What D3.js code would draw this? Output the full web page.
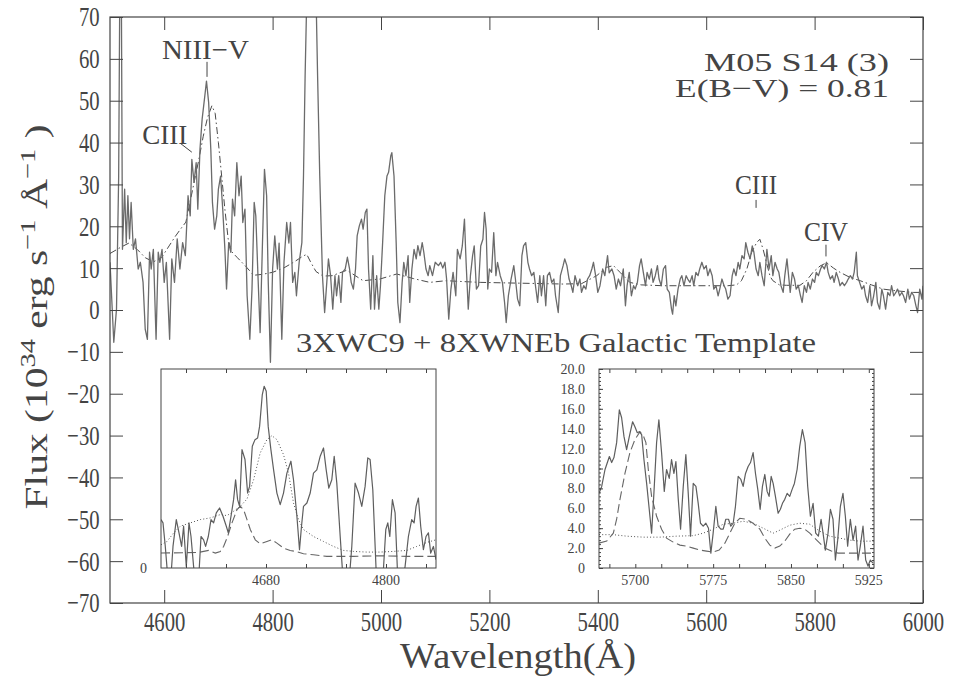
<!DOCTYPE html>
<html>
<head>
<meta charset="utf-8">
<script src="https://cdn.jsdelivr.net/npm/d3@7"></script>
<style>
body { margin: 0; background: #fff; }
svg { font-family: "Liberation Serif", serif; }
</style>
</head>
<body>
<script>

// observed spectrum (wavelength in A, flux in 1e34 erg/s/A)
var wave = [4500,4507,4512,4516,4518,4521,4523,4527,4530,4533,4536,4539,4543,4547,4552,4556,4561,4565,4569,4573,
    4576,4580,4585,4589,4592,4596,4600,4604,4610,4614,4619,4624,4629,4634,4639,4644,4648,4651,4655,4659,
    4662,4666,4670,4675,4678,4682,4686,4689,4693,4697,4700,4704,4708,4712,4715,4719,4723,4726,4730,4734,
    4738,4742,4745,4749,4753,4758,4762,4766,4769,4773,4777,4781,4785,4789,4792,4796,4800,4804,4809,4812,
    4817,4821,4826,4830,4833,4837,4841,4844,4849,4854,4857,4860,4872,4883,4887,4892,4896,4900,4903,4907,
    4911,4915,4918,4922,4926,4929,4934,4938,4942,4945,4949,4953,4956,4960,4964,4967,4971,4974,4977,4981,
    4985,4988,4992,4996,4999,5003,5007,5011,5014,5018,5020,5024,5028,5031,5035,5039,5042,5046,5050,5053,
    5057,5061,5065,5068,5072,5076,5079,5083,5087,5090,5095,5100,5106,5110,5114,5118,5121,5125,5129,5133,
    5138,5141,5146,5150,5154,5157,5161,5165,5169,5172,5176,5180,5184,5188,5191,5194,5197,5200,5204,5208,
    5212,5215,5220,5224,5228,5231,5235,5240,5245,5248,5252,5256,5260,5263,5267,5271,5274,5278,5282,5285,
    5289,5293,5296,5300,5304,5307,5311,5315,5319,5322,5327,5331,5336,5339,5343,5347,5351,5354,5358,5363,
    5367,5370,5374,5378,5381,5385,5389,5392,5396,5400,5404,5409,5413,5418,5421,5426,5430,5434,5438,5442,
    5447,5451,5454,5458,5462,5466,5469,5473,5477,5480,5484,5488,5491,5495,5499,5502,5506,5510,5513,5517,
    5521,5525,5528,5532,5536,5538,5541,5544,5548,5552,5555,5559,5563,5566,5570,5574,5577,5581,5585,5588,
    5592,5596,5600,5603,5607,5611,5614,5618,5622,5625,5629,5633,5636,5640,5644,5648,5651,5655,5659,5662,
    5666,5670,5673,5677,5681,5685,5688,5692,5696,5699,5703,5707,5712,5716,5720,5723,5727,5731,5734,5738,
    5742,5745,5749,5752,5755,5759,5763,5766,5770,5774,5777,5781,5785,5788,5792,5796,5800,5803,5807,5811,
    5814,5818,5822,5825,5829,5833,5836,5840,5844,5847,5851,5855,5859,5862,5866,5870,5873,5877,5879,5883,
    5887,5891,5894,5898,5902,5905,5909,5913,5916,5920,5924,5927,5931,5935,5939,5942,5946,5950,5953,5957,
    5961,5964,5968,5972,5975,5979,5983,5987,5990,5994,5998,6000];
var flux = [11.4,-7.7,0.2,32,75,75,14.5,28.9,16.1,27.3,17,25.7,14.5,17,9.8,11.4,6.6,-4.6,-7,13.8,
    9.8,14.5,-7,13.8,11.4,14.5,6.6,11.4,-7,12.2,6.6,17,9.8,16.1,13,27.3,22.5,36,30.5,35.2,
    24.1,38.4,45.6,51.2,54.7,49.6,38.4,25.7,19.3,22.5,28.9,32,24.1,14.5,5,16.1,13.8,26.5,22.5,35.2,
    27.3,32,20.9,24.1,3.4,-7,5,25.7,22.5,8.2,-5.4,14.5,33.6,27.3,6.6,-12.5,9.8,17.7,9.8,16,
    -7,11.4,20.9,16,20.9,6.6,9,3.4,11.4,16.1,32,56,130,56,32,8.2,-0.6,6.6,12.2,8.2,
    0.2,8.2,3.4,8.2,1.8,9,9.8,12.6,9.8,6.6,5,9.8,17.7,20.1,21.7,19.3,23.3,24.1,9.8,0.2,
    13,0.2,8.2,0.2,5.8,16.1,27.3,32,32.9,36.8,37.6,32,16.1,1.8,-3,6.6,11.4,8.2,13,1.8,
    9.8,14.5,12.2,15.4,13,16.1,13.8,9.8,8.2,10.6,8.2,11.4,10.6,11.4,10,11.4,7.4,-2.2,5,9,
    3.4,14.5,12.2,15.3,21.7,11.4,0.2,8.2,13,15.3,5,5.8,15.3,16.9,23.3,19.3,5,9.8,9,18.5,
    8.2,11.4,8.2,6.6,1.8,-3,3.4,7.4,10.6,7.4,2.6,1,13,15.3,16.1,11.4,9.8,8.2,9,5.8,
    1.8,8.2,3.4,8.2,1,8.2,9,6.6,7.4,3.4,-0.6,8.2,10.6,12.2,10.6,7.4,5.8,4.2,8.2,5.8,
    7.4,4.2,5.8,5,7.4,8.2,9.8,11.4,8.2,4.2,5.8,9.8,8.2,13,8.9,9.8,8.2,5,7.4,5.8,
    9.8,1,5.8,9,3.4,5.8,5,6.6,10.6,12.2,9,5.8,9,7.4,9.8,6.6,8.2,10.6,7.4,5.8,
    9.8,10.6,5,4.2,0.2,-1,3.4,1,5,7.4,8.2,5.8,8.2,7.4,6.6,8.2,5.8,9,8.2,9.8,
    11.4,9.8,10.6,8.2,9.8,8.2,5,5.8,3.4,5,7.4,5.8,5,2.6,3.4,8.2,9.8,8.2,11.4,9.8,
    13,12.2,16.1,13.8,12.2,15.3,13.8,9.8,8.2,11.4,8.2,5.8,14.5,9.8,13,8.2,11.4,9.8,9,5.8,
    4.2,8.2,12.2,8.2,4.2,9,7.4,5,5.8,3.4,1.8,5.8,4.2,6.6,5,7.4,6.6,9,8.2,9.8,
    10.6,9.8,11.4,9,7.4,8.2,6.6,9,7.4,5.8,6.6,5.8,6.6,7.4,8.2,7.4,9,13.8,8.2,6.6,
    5,5.8,3.4,1.8,5.8,1,3.4,6.6,1.8,0.2,5,3.4,0.2,4.2,3.4,5.8,3.4,4.2,5,3.4,
    4.2,3.4,1.8,5,2.6,4.2,3.4,1,-0.6,5,2.6,5.8];

// 3xWC9 + 8xWNEb template
var tplWave = [4500,4520,4535,4550,4565,4580,4595,4610,4620,4630,4640,4648,4656,4664,4672,4680,4688,4694,4700,4706,
    4712,4718,4724,4735,4750,4765,4780,4800,4820,4840,4855,4863,4870,4880,4893,4910,4937,4967,4998,5029,
    5060,5090,5120,5150,5183,5220,5260,5300,5336,5370,5398,5416,5429,5441,5459,5480,5520,5560,5600,5640,
    5656,5665,5675,5684,5693,5699,5705,5711,5718,5723,5735,5748,5773,5785,5797,5810,5822,5835,5847,5865,
    5884,5905,5926,5950,5982,6000];
var tplFlux = [13.5,15,16,14.5,12.5,11.5,12.5,15.5,17.5,19.3,21,26,31,36,41.5,46,48.8,47,40,32,
    24,17,14,12.5,10.5,8.3,8.5,9,10,11.5,12.8,13.3,11.5,9.2,8.1,8.2,9.5,7,7.4,8.6,
    7.5,6.6,7,6.8,6.6,6.5,6.4,6.3,6.2,6.3,8.2,10.2,10.6,9,6.6,6,5.8,5.8,5.8,5.8,
    6,7,9.8,13.8,16.1,16.9,14.5,11.4,8,7,6,5.9,5.9,7,9,10.5,11.3,10,9,7.8,
    7,6,5,4.6,4.2,4.2];

// inset 1: NIII-V / CIII 4650 region
var in1Wave = [4575,4577,4579.3,4581.7,4584.3,4587,4590.3,4593,4595.6,4597.6,4600.3,4603,4605,4607.6,4610.3,4613,4615,4617.6,4619.6,4622.3,
    4625,4627.6,4630.3,4633.6,4637,4640.3,4642.3,4645,4647.6,4649.6,4651.6,4653.6,4656,4659,4661.6,4663.6,4666.3,4669,4671.6,4673.6,
    4676.3,4678.2,4680.2,4682.2,4684.9,4687.6,4690.9,4694.2,4697.5,4700.9,4704.9,4707.5,4710.9,4713.5,4715.5,4717.5,4720.9,4724.2,4727.5,4730.8,
    4734.2,4737.5,4740.2,4742.8,4745.8,4748.2,4750.8,4754.2,4757.5,4762.5,4765.8,4769.1,4772.5,4775.8,4779.1,4781.8,4784.1,4786.8,4790.1,4794.1,
    4797.4,4799.8,4801.8,4803.8,4806.4,4809.1,4811.4,4815.8,4819.1,4822.4,4825.7,4828.1,4830.1,4832.4,4834.7,4837.4,4840,4842.4,4844.7,4847.4,4850];
var in1Flux = [14.6,13.6,6.5,-2.5,-5.5,6.5,14.6,10.6,6.5,12.6,0.5,13.6,9.5,0.5,-6.5,-1.5,9.5,8.5,6.5,9.5,
    14.6,13.6,16.6,18.1,15.6,12.6,10.6,15.6,20.6,26.6,20.6,18.6,35.7,32.7,22.6,24.6,36.7,38.7,39.2,42.7,
    52.3,54.8,53.3,42.7,35.7,29.6,22.6,19.1,22.6,28.6,32.2,26.6,15.6,5.5,12.6,18.6,19.6,22.6,28.6,29.6,
    33.7,36.2,29.6,24.1,26.6,33.7,25.6,9.5,-5.5,-6.5,6.5,25.6,22.6,18.6,24.6,33.2,32.7,23.6,-0.5,-7.5,
    -0.5,11.6,13.6,9.5,20.6,16.6,-0.5,-5.5,0.5,9.5,14.6,13.6,18.6,21.1,12.6,5.5,9.5,10.6,4.5,6.5,2.5];
var in1WcWave = [4575,4612.6,4622.6,4629.3,4634.3,4637.6,4641.6,4646,4651,4654.3,4657.6,4661,4664.3,4669.3,4674.2,4680.9,4685.9,4690.9,4697.5,4704.2,
    4710.9,4717.5,4727.5,4740.8,4767.5,4794.1,4820.8,4850];
var in1WcFlux = [4.5,4.7,5.3,4.5,5,6.5,9.5,13.6,17.6,18.6,17.6,14.6,11.6,8.5,7.3,8,8.5,7.5,6,5.3,
    4.9,4.3,4,3.5,3.5,3.7,3.5,3.5];
var in1WnWave = [4575,4581,4587.7,4594.3,4604.3,4614.3,4624.3,4634.3,4641,4647.6,4654.3,4661,4667.6,4674.2,4680.9,4685.9,4690.9,4697.5,4702.5,4707.5,
    4712.5,4717.5,4727.5,4737.5,4747.5,4757.5,4767.5,4780.8,4794.1,4807.4,4820.8,4830.7,4840.7,4850];
var in1WnFlux = [7,8,10.6,12.6,13.6,14.6,15.1,16.1,15.8,17.1,18.6,20.8,26.6,34.7,38.7,39.9,38.7,34.2,28.6,19.6,
    14.6,11.6,9.5,8,6.5,5.3,5,4.8,4.8,5,5.3,6.5,7.7,8.5];

// inset 2: CIII 5696 / CIV 5808 region
var in2Wave = [5665,5667.6,5670.8,5675,5677.2,5679.4,5682,5684.6,5686.8,5689.1,5691.6,5694.2,5697.4,5699.6,5701.9,5703.8,5706.1,5708.3,5710.9,5713.4,
    5715.7,5717.9,5720.5,5722.7,5725.3,5727.9,5730.1,5732.7,5734.9,5737.2,5739.1,5741.4,5743.6,5746.2,5748.7,5751,5753.2,5755.8,5758.4,5760.6,
    5762.8,5765.4,5768,5770.5,5772.8,5775,5777.6,5779.8,5782.4,5784.7,5787.2,5789.8,5792,5794.3,5796.5,5799.1,5801.7,5803.9,5806.2,5808.7,
    5811,5813.5,5815.8,5818,5820.3,5822.5,5824.8,5827,5828.9,5830.9,5832.8,5835,5837.6,5839.8,5841.8,5844,5846.3,5848.8,5851.1,5853.3,
    5855.9,5858.4,5861,5863.6,5866.1,5868.7,5871.3,5873.8,5876.4,5879,5880.9,5883.1,5885.7,5888,5890.5,5892.8,5895,5897.6,5900.1,5902.4,
    5904.6,5907.2,5909.8,5912.3,5914.6,5916.8,5919.4,5922,5924.2,5926.5,5929];
var in2Flux = [7.5,8.2,9.9,11.2,10.6,11.1,12.6,15.9,15.1,13.2,11.9,13.2,14.7,14.2,13.6,13.7,13.4,10.9,8.5,5.9,
    3.5,7.5,12.6,14.9,11.6,7.7,9.9,9,10.9,9.5,10.7,6.9,3.9,8.2,11.4,7.5,3.2,8.5,8.2,6.5,
    4.5,4.2,4.5,4,1.5,3.5,6.2,4.2,3.9,3.9,4.9,4.9,4.2,4.5,6.2,9.2,8.9,8.2,9.5,10.2,
    10.6,11.6,9.5,7.9,5.9,8.2,9.4,7.7,7.2,9.2,8.5,7.2,5.5,5.9,6.5,6.9,7.5,7.2,7.9,8.5,
    9.9,12.2,13.9,12.6,8.2,5.2,6.5,3.5,3.2,4.9,3.5,1.8,3.5,5.9,4.9,0.8,2.8,6.2,7.5,5.2,
    2.2,4.9,2.8,4.2,0.8,2.2,4.2,0.8,0.2,0.8,0.5];
var in2WcWave = [5665,5672.4,5678.8,5682,5685.2,5690,5694.8,5699.6,5704.5,5707.7,5710.2,5712.5,5715.7,5720.5,5725.3,5730.1,5736.5,5743,5749.4,5755.8,
    5762.2,5768.6,5775,5780.8,5786.3,5791.1,5795.9,5800.7,5807.1,5813.5,5820,5824.8,5829.6,5834.4,5839.2,5844,5848.8,5853.6,5858.4,5863.3,
    5868.1,5872.9,5877.7,5882.5,5888.9,5895.3,5930];
var in2WcFlux = [2.5,2.7,3.5,4.9,6.9,9.5,11.6,12.9,13.7,13.3,12.6,9.9,7.2,5.2,3.9,3,2.6,2.3,2.2,2,
    1.8,1.7,1.6,1.8,2.5,3.5,4.5,5,4.9,4.5,3.9,3,2.3,2,2.2,2.7,3.4,3.9,4,3.9,
    3.5,3,2.5,2,1.7,1.5,1.5];
var in2WnWave = [5665,5678.8,5691.6,5707.7,5723.7,5739.7,5755.8,5765.4,5775,5784.7,5794.3,5804,5813.5,5823.2,5832.8,5839.2,5848.8,5858.4,5868.1,5877.7,
    5887.3,5897,5906.6,5916.2,5930];
var in2WnFlux = [3.35,3.35,3.2,3.1,3.1,3.2,3.25,3.5,3.9,4.4,4.5,4.7,4.5,4,3.5,3.8,4.3,4.5,4.4,3.7,
    3.2,3,2.8,2.7,2.7];

// tick values
var xTicks = [4600,4800,5000,5200,5400,5600,5800,6000];
var yTicks = [-70,-60,-50,-40,-30,-20,-10,0,10,20,30,40,50,60,70];
var in1Ticks = [4600,4640,4680,4720,4760,4800,4840];
var in1Labels = [4680,4800];
var in2Ticks = [5675,5700,5725,5750,5775,5800,5825,5850,5875,5900,5925];
var in2Labels = [5700,5775,5850,5925];
var in2YLabels = [0,2,4,6,8,10,12,14,16,18,20];

var margin = {top: 17, right: 30, bottom: 76, left: 110};
var width = 953 - margin.left - margin.right,
    height = 679 - margin.top - margin.bottom;

var ink = "#444";
var serif = "'Liberation Serif', serif";

var svg = d3.select("body").append("svg")
    .attr("width", 953)
    .attr("height", 679);

var g = svg.append("g")
    .attr("transform", "translate(" + margin.left + "," + margin.top + ")");

var x = d3.scaleLinear().domain([4500, 6000]).range([0, width]);
var y = d3.scaleLinear().domain([-70, 70]).range([height, 0]);

g.append("clipPath").attr("id", "clipMain")
    .append("rect").attr("width", width).attr("height", height);

var pairs = function (a, b) { return a.map(function (v, i) { return [v, b[i]]; }); };

var line = d3.line()
    .x(function (d) { return x(d[0]); })
    .y(function (d) { return y(d[1]); });

g.append("path")
    .attr("clip-path", "url(#clipMain)")
    .attr("d", line(pairs(tplWave, tplFlux)))
    .style("fill", "none")
    .style("stroke", "#4a4a4a")
    .style("stroke-width", 1)
    .style("stroke-dasharray", "7,3,1.5,3");

g.append("path")
    .attr("clip-path", "url(#clipMain)")
    .attr("d", line(pairs(wave, flux)))
    .style("fill", "none")
    .style("stroke", "#6b6b6b")
    .style("stroke-width", 1.3)
    .style("stroke-linejoin", "round");

// squeeze the axis digits like the plotting font
var squeeze = function (sel, size, sx) {
    sel.attr("font-family", serif);
    sel.selectAll("text")
        .style("font-family", serif)
        .style("font-size", size + "px")
        .style("fill", ink)
        .attr("transform", "scale(" + sx + ",1)");
};

var styleAxis = function (sel) {
    sel.select(".domain").remove();
    sel.selectAll("line").style("stroke", ink);
};

g.append("g")
    .attr("transform", "translate(0," + height + ")")
    .call(d3.axisBottom(x).tickValues(xTicks).tickSize(-13).tickPadding(8).tickFormat(d3.format("d")))
    .call(styleAxis)
    .call(squeeze, 28, 0.74);

g.append("g")
    .call(d3.axisTop(x).tickValues(xTicks).tickSize(-13).tickFormat(""))
    .call(styleAxis);

g.append("g")
    .call(d3.axisLeft(y).tickValues(yTicks).tickSize(-13).tickPadding(14).tickFormat(d3.format("d")))
    .call(styleAxis)
    .call(squeeze, 28, 0.74);

g.append("g")
    .attr("transform", "translate(" + width + ",0)")
    .call(d3.axisRight(y).tickValues(yTicks).tickSize(-13).tickFormat(""))
    .call(styleAxis);

g.append("rect")
    .attr("width", width).attr("height", height)
    .style("fill", "none").style("stroke", ink).style("stroke-width", 1.2);

// line identifications
var label = function (txt, px, py, len) {
    return g.append("text").attr("x", px).attr("y", py)
        .attr("text-anchor", "middle").style("font-size", "28px").style("fill", ink)
        .attr("textLength", len).attr("lengthAdjust", "spacingAndGlyphs")
        .text(txt);
};

label("NIII\u2212V", x(4678) - 1, y(60), 87);
g.append("line").attr("x1", x(4679)).attr("x2", x(4679))
    .attr("y1", y(60) + 3).attr("y2", y(60) + 18).style("stroke", ink);

label("CIII", x(4601), y(39.6), 45);
g.append("line").attr("x1", x(4630)).attr("y1", y(39.8))
    .attr("x2", x(4651)).attr("y2", y(37.7)).style("stroke", ink);

label("CIII", x(5692), y(27.8), 42);
g.append("line").attr("x1", x(5692)).attr("x2", x(5692))
    .attr("y1", y(26.3)).attr("y2", y(24.4)).style("stroke", ink);

label("CIV", x(5821), y(16.4), 44);
g.append("line").attr("x1", x(5821)).attr("x2", x(5821))
    .attr("y1", y(15.6)).attr("y2", y(12.8)).style("stroke", ink);

g.append("text").attr("x", 779).attr("y", y(57.1))
    .attr("text-anchor", "end").style("font-size", "26px").style("fill", ink)
    .attr("textLength", 185).attr("lengthAdjust", "spacingAndGlyphs")
    .text("M05 S14 (3)");
g.append("text").attr("x", 779).attr("y", y(50.8))
    .attr("text-anchor", "end").style("font-size", "26px").style("fill", ink)
    .attr("textLength", 214).attr("lengthAdjust", "spacingAndGlyphs")
    .text("E(B\u2212V) = 0.81");

svg.append("text").attr("x", 556).attr("y", 352)
    .attr("text-anchor", "middle").style("font-size", "28px").style("fill", ink)
    .attr("textLength", 520).attr("lengthAdjust", "spacingAndGlyphs")
    .text("3XWC9 + 8XWNEb Galactic Template");

// axis titles
svg.append("text")
    .attr("x", 518).attr("y", 668)
    .attr("text-anchor", "middle").style("font-size", "36px").style("fill", ink)
    .attr("textLength", 236).attr("lengthAdjust", "spacingAndGlyphs")
    .text("Wavelength(\u00c5)");

var ytitle = svg.append("text")
    .attr("transform", "translate(47,317) rotate(-90)")
    .attr("text-anchor", "middle").style("font-size", "32px").style("fill", ink)
    .attr("textLength", 385).attr("lengthAdjust", "spacingAndGlyphs");
ytitle.append("tspan").text("Flux (10");
ytitle.append("tspan").attr("dy", -12).style("font-size", "22px").text("34");
ytitle.append("tspan").attr("dy", 12).text(" erg s");
ytitle.append("tspan").attr("dy", -12).style("font-size", "22px").text("\u22121");
ytitle.append("tspan").attr("dy", 12).text(" \u00c5");
ytitle.append("tspan").attr("dy", -12).style("font-size", "22px").text("\u22121");
ytitle.append("tspan").attr("dy", 12).text(" )");

// insets
var drawInset = function (opt) {
    var ig = svg.append("g").attr("transform", "translate(" + opt.left + "," + opt.top + ")");
    var ix = d3.scaleLinear().domain(opt.xDomain).range([0, opt.w]);
    var iy = d3.scaleLinear().domain(opt.yDomain).range([opt.h, 0]);

    ig.append("rect").attr("width", opt.w).attr("height", opt.h).style("fill", "#fff");
    ig.append("clipPath").attr("id", opt.id)
        .append("rect").attr("width", opt.w).attr("height", opt.h);

    var il = d3.line()
        .x(function (d) { return ix(d[0]); })
        .y(function (d) { return iy(d[1]); });

    ig.append("path").attr("clip-path", "url(#" + opt.id + ")")
        .attr("d", il(opt.wn)).style("fill", "none").style("stroke", "#555")
        .style("stroke-width", 1).style("stroke-dasharray", "1,2.2");
    ig.append("path").attr("clip-path", "url(#" + opt.id + ")")
        .attr("d", il(opt.wc)).style("fill", "none").style("stroke", "#666")
        .style("stroke-width", 1.1).style("stroke-dasharray", "9,4");
    ig.append("path").attr("clip-path", "url(#" + opt.id + ")")
        .attr("d", il(opt.obs)).style("fill", "none").style("stroke", "#5e5e5e")
        .style("stroke-width", 1.2).style("stroke-linejoin", "round");

    ig.append("g").attr("transform", "translate(0," + opt.h + ")")
        .call(d3.axisBottom(ix).tickValues(opt.xTicks).tickSize(-4).tickFormat(""))
        .call(styleAxis);
    ig.append("g")
        .call(d3.axisTop(ix).tickValues(opt.xTicks).tickSize(-4).tickFormat(""))
        .call(styleAxis);

    ig.selectAll(".xl").data(opt.xLabels).enter().append("text")
        .attr("x", function (d) { return ix(d); })
        .attr("y", opt.h + 17)
        .attr("text-anchor", "middle").style("font-size", "14px").style("fill", ink)
        .text(function (d) { return d; });

    if (opt.yMinor) {
        ig.append("g").call(d3.axisLeft(iy).tickValues(opt.yMinor).tickSize(-2).tickFormat("")).call(styleAxis);
        ig.append("g").attr("transform", "translate(" + opt.w + ",0)")
            .call(d3.axisRight(iy).tickValues(opt.yMinor).tickSize(-2).tickFormat("")).call(styleAxis);
        ig.append("g").call(d3.axisLeft(iy).tickValues(opt.yLabels).tickSize(-4).tickFormat("")).call(styleAxis);
        ig.append("g").attr("transform", "translate(" + opt.w + ",0)")
            .call(d3.axisRight(iy).tickValues(opt.yLabels).tickSize(-4).tickFormat("")).call(styleAxis);
    }

    ig.selectAll(".yl").data(opt.yLabels).enter().append("text")
        .attr("x", -14)
        .attr("y", function (d) { return iy(d) + 5; })
        .attr("text-anchor", "end").style("font-size", "14px").style("fill", ink)
        .text(function (d) { return d === 0 ? "0" : d3.format(".1f")(d); });

    ig.append("rect").attr("width", opt.w).attr("height", opt.h)
        .style("fill", "none").style("stroke", ink).style("stroke-width", 1);
};

drawInset({
    id: "clipIn1", left: 161, top: 369, w: 275, h: 199,
    xDomain: [4575, 4850], yDomain: [0, 60],
    obs: pairs(in1Wave, in1Flux), wc: pairs(in1WcWave, in1WcFlux), wn: pairs(in1WnWave, in1WnFlux),
    xTicks: in1Ticks, xLabels: in1Labels, yLabels: [0]
});

drawInset({
    id: "clipIn2", left: 599, top: 369, w: 275, h: 199,
    xDomain: [5665, 5930], yDomain: [0, 20],
    obs: pairs(in2Wave, in2Flux), wc: pairs(in2WcWave, in2WcFlux), wn: pairs(in2WnWave, in2WnFlux),
    xTicks: in2Ticks, xLabels: in2Labels, yLabels: in2YLabels,
    yMinor: d3.range(0, 20.01, 0.4)
});

</script>
</body>
</html>
